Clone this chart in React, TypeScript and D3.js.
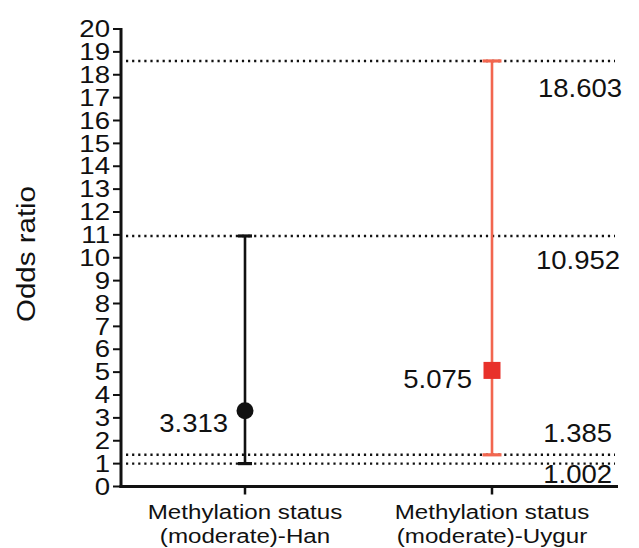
import React from "react";
import * as d3 from "d3";

const categories = ["Methylation status\n(moderate)-Han", "Methylation status\n(moderate)-Uygur"];
const oddsRatios = [3.313, 5.075];
const lowerCI = [1.002, 1.385];
const upperCI = [10.952, 18.603];
const yTicks = d3.range(0, 21);
const refLines = [18.603, 10.952, 1.385, 1.002];

const W = 639, H = 548;
const x0 = 121, x1 = 618;
const y0 = 486.5, yTop = 29;

function T({ x, y, size, anchor = "start", sx = 1.13, children, fill = "#111" }: any) {
  return (
    <text transform={`translate(${x},${y}) scale(${sx},1)`} textAnchor={anchor} fontSize={size} fill={fill}>
      {children}
    </text>
  );
}

export default function App() {
  const y = d3.scaleLinear().domain([0, 20]).range([y0, yTop]);
  const x = d3.scalePoint().domain(categories).range([245, 492]);
  const colors = ["#111111", "#e8312a"];
  const barColors = ["#111111", "#f2664f"];
  const capW = [7, 9.5];
  const font = "Arial, 'Liberation Sans', sans-serif";
  return (
    <svg width={W} height={H} style={{ position: "absolute", left: 0, top: 0, background: "#fff" }} fontFamily={font}>
      {/* reference dotted lines */}
      {refLines.map((v, i) => (
        <line key={"r" + i} x1={x0 + 5} x2={x1 - 3} y1={y(v)} y2={y(v)} stroke="#111" strokeWidth={2.4}
          strokeDasharray="2.2 3.9" />
      ))}
      {/* y axis */}
      <line x1={x0} x2={x0} y1={yTop - 1} y2={y0 + 1.5} stroke="#111" strokeWidth={3} />
      {yTicks.map((t) => (
        <g key={t}>
          <line x1={x0 - 8} x2={x0} y1={y(t)} y2={y(t)} stroke="#111" strokeWidth={2} />
          <T x={110} y={y(t) + 8.2} size={23} anchor="end" sx={1.2}>{t}</T>
        </g>
      ))}
      {/* x axis */}
      <line x1={x0 - 1.5} x2={x1} y1={y0} y2={y0} stroke="#111" strokeWidth={3} />
      {categories.map((c) => (
        <g key={c}>
          <line x1={x(c)!} x2={x(c)!} y1={y0} y2={y0 + 8} stroke="#111" strokeWidth={2.5} />
          {c.split("\n").map((ln, j) => (
            <T key={j} x={x(c)!} y={519 + j * 24} size={21} anchor="middle" sx={1.15}>{ln}</T>
          ))}
        </g>
      ))}
      {/* error bars */}
      {categories.map((c, i) => {
        const cx = x(c)!;
        return (
          <g key={"e" + i} stroke={barColors[i]} strokeWidth={2.6}>
            <line x1={cx} x2={cx} y1={y(lowerCI[i])} y2={y(upperCI[i])} />
            <line x1={cx - capW[i]} x2={cx + capW[i]} y1={y(lowerCI[i])} y2={y(lowerCI[i])} strokeWidth={3.2} />
            <line x1={cx - capW[i]} x2={cx + capW[i]} y1={y(upperCI[i])} y2={y(upperCI[i])} strokeWidth={3.2} />
          </g>
        );
      })}
      {/* points */}
      <circle cx={x(categories[0])!} cy={y(oddsRatios[0])} r={8.5} fill={colors[0]} />
      <rect x={x(categories[1])! - 8.5} y={y(oddsRatios[1]) - 8.5} width={17} height={17} fill={colors[1]} />
      {/* value labels */}
      <T x={228} y={432} size={25} anchor="end" sx={1.1}>{oddsRatios[0].toFixed(3)}</T>
      <T x={472} y={388} size={25} anchor="end" sx={1.1}>{oddsRatios[1].toFixed(3)}</T>
      <T x={622} y={y(upperCI[1]) + 36} size={25} anchor="end" sx={1.1}>{upperCI[1].toFixed(3)}</T>
      <T x={620} y={y(upperCI[0]) + 33} size={25} anchor="end" sx={1.1}>{upperCI[0].toFixed(3)}</T>
      <T x={612} y={442} size={25} anchor="end" sx={1.1}>{lowerCI[1].toFixed(3)}</T>
      <T x={612} y={483} size={25} anchor="end" sx={1.1}>{lowerCI[0].toFixed(3)}</T>
      {/* y title */}
      <text transform={`translate(35, ${254}) rotate(-90) scale(1.18,1)`} textAnchor="middle" fontSize={25} fill="#111">Odds ratio</text>
    </svg>
  );
}
